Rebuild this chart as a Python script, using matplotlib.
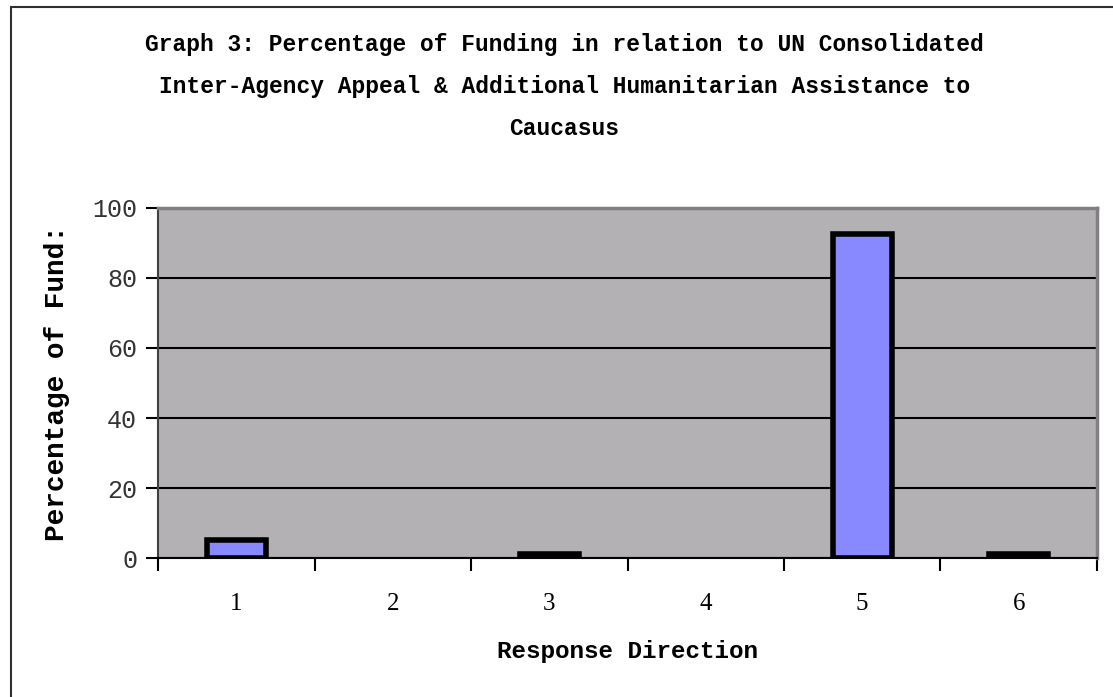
import matplotlib.pyplot as plt
from matplotlib.patches import Rectangle

# data
directions = [1, 2, 3, 4, 5, 6]
pct_fund = [5.1, 0, 1.2, 0, 92.6, 1.2]

title = ('Graph 3: Percentage of Funding in relation to UN Consolidated\n'
         'Inter-Agency Appeal & Additional Humanitarian Assistance to\n'
         'Caucasus')

fig = plt.figure(figsize=(11.13, 6.97), dpi=100)
ax = fig.add_axes([0.142, 0.1994, 0.8436, 0.5022])

# outer chart border
fig.patches.append(Rectangle((11 / 1113, -0.05), 1.2, 1.05 - 7 / 697,
                             transform=fig.transFigure, fill=False,
                             edgecolor='#303030', linewidth=1.5))

ax.set_facecolor('#b4b1b4')
lws = [4 if v > 0 else 0 for v in pct_fund]
ax.bar(directions, pct_fund, width=0.375, color='#8888ff',
       edgecolor='black', linewidth=lws, zorder=3)

ax.set_xlim(0.5, 6.5)
ax.set_ylim(0, 100)
ax.set_yticks([0, 20, 40, 60, 80, 100])
ax.set_xticks([0.5, 1.5, 2.5, 3.5, 4.5, 5.5, 6.5])
ax.set_xticklabels([])
ax.set_xticks(directions, minor=True)
ax.set_xticklabels([str(d) for d in directions], minor=True,
                   family='Liberation Serif', fontsize=18)
ax.tick_params(axis='x', which='minor', length=0, pad=25)
ax.tick_params(axis='x', which='major', length=9, width=1.5, direction='out')
ax.tick_params(axis='y', length=9, width=1.5, direction='out', pad=6)
for t in ax.get_yticklabels():
    t.set_family('Liberation Mono')
    t.set_fontsize(18)
    t.set_color('#333333')

ax.yaxis.grid(True, color='black', linewidth=1.5, zorder=1)
ax.set_axisbelow(True)

for s in ['top', 'right']:
    ax.spines[s].set_color('#808080')
    ax.spines[s].set_linewidth(2.5)
ax.spines['left'].set_color('#404040')
ax.spines['left'].set_linewidth(1.5)
ax.spines['bottom'].set_color('black')
ax.spines['bottom'].set_linewidth(1.5)

ax.set_ylabel('Percentage of Fund:', family='Liberation Mono',
              fontweight='bold', fontsize=20, labelpad=16)
ax.set_xlabel('Response Direction', family='Liberation Mono',
              fontweight='bold', fontsize=17.5, labelpad=18)

fig.text(0.507, 0.952, title, ha='center', va='top', family='Liberation Mono',
         fontweight='bold', fontsize=16.5, linespacing=2.05)

fig.savefig('out.png', dpi=100)
